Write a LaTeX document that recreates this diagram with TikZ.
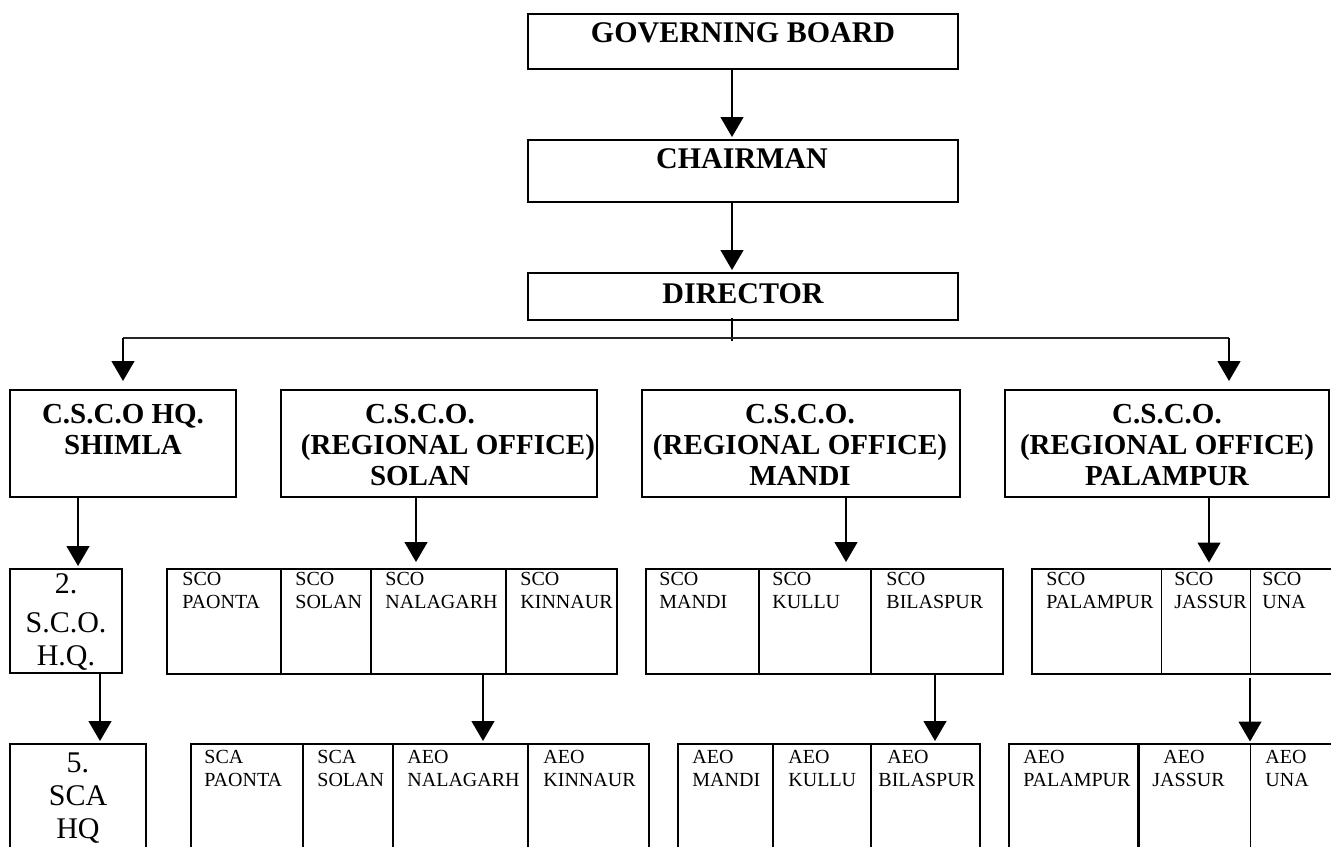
\documentclass[tikz,border=0pt]{standalone}
\usepackage{fontspec}
\setmainfont{Liberation Serif}
\usetikzlibrary{arrows.meta,fit}
\newcommand\colL[1]{\begin{tabular}[t]{@{}l@{}}#1\end{tabular}}
\newcommand\colC[1]{\begin{tabular}[t]{@{}c@{}}#1\end{tabular}}
\newcommand\ftop{\fontsize{15}{16}\selectfont\bfseries}
\newcommand\fmid{\fontsize{14.5}{15.5}\selectfont\bfseries}
\newcommand\freg{\fontsize{15}{16.5}\selectfont}
\newcommand\fsml{\fontsize{10}{11.5}\selectfont}
\begin{document}
\begin{tikzpicture}[x=0.5pt,y=-0.5pt,
 box/.style={draw,line width=1pt,inner sep=0pt},
 thinbox/.style={draw,line width=0.5pt,inner sep=0pt},
 arr/.style={line width=0.65pt,-{Triangle[width=11.5pt,length=10pt]},shorten >=1pt},
 conn/.style={line width=0.65pt},
 bus/.style={line width=0.55pt,black!85},
 tb/.style={inner sep=0pt,anchor=base},
 tl/.style={inner sep=0pt,anchor=base west,font=\fsml},
]
\useasboundingbox (0,0) rectangle (1331,846);
\fill[white] (0,0) rectangle (1331,846);
\clip (0,0) rectangle (1331,846);

% ---- top chain
\node[box, fit={(528,14) (958,69)}] (gb) {};
\node[box, fit={(528,140) (958,202)}] (ch) {};
\node[box, fit={(528,273) (958,320)}] (dir) {};
\node[tb, font=\ftop] (gbt) at (743,42) {GOVERNING BOARD};
\node[tb, font=\ftop] (cht) at (742,168) {CHAIRMAN};
\node[tb, font=\ftop] (dirt) at (743,303) {DIRECTOR};

% ---- level 3
\node[box, fit={(10,390) (236,497)}] (shimla) {};
\node[box, fit={(281,390) (597,497)}] (solan) {};
\node[box, fit={(642,390) (960,497)}] (mandi) {};
\node[box, fit={(1005,390) (1329,497)}] (palam) {};
\node[tb, font=\fmid] (shimlat) at (123,423) {\colC{C.S.C.O HQ.\\SHIMLA}};
\node[tb, font=\fmid] (solant) at (420,423) {\colC{C.S.C.O.\\\makebox[0pt]{\hspace*{28pt}(REGIONAL OFFICE)}\\SOLAN}};
\node[tb, font=\fmid] (mandit) at (800,423) {\colC{C.S.C.O.\\(REGIONAL OFFICE)\\MANDI}};
\node[tb, font=\fmid] (palamt) at (1167,423) {\colC{C.S.C.O.\\(REGIONAL OFFICE)\\PALAMPUR}};

% ---- level 4
\node[box, fit={(10,569) (122,673)}] (sco2) {};
\node[tb, font=\freg] (sco2t) at (66,593) {\colC{2.\\[3pt]S.C.O.\\H.Q.}};

\node[box, fit={(167,569) (281,674)}] (s1) {};
\node[box, fit={(281,569) (371,674)}] (s2) {};
\node[box, fit={(371,569) (506,674)}] (s3) {};
\node[box, fit={(506,569) (617,674)}] (s4) {};
\node[tl] (s1t) at (182,585) {\colL{SCO\\PAONTA}};
\node[tl] (s2t) at (295,585) {\colL{SCO\\SOLAN}};
\node[tl] (s3t) at (385,585) {\colL{SCO\\NALAGARH}};
\node[tl] (s4t) at (520,585) {\colL{SCO\\KINNAUR}};

\node[box, fit={(646,569) (759,674)}] (m1) {};
\node[box, fit={(759,569) (871,674)}] (m2) {};
\node[box, fit={(871,569) (1003,674)}] (m3) {};
\node[tl] (m1t) at (659,585) {\colL{SCO\\MANDI}};
\node[tl] (m2t) at (772,585) {\colL{SCO\\KULLU}};
\node[tl] (m3t) at (886,585) {\colL{SCO\\BILASPUR}};

\node[thinbox, fit={(1032,569) (1161,674)}] (p1) {};
\node[thinbox, fit={(1161,569) (1250,674)}] (p2) {};
\node[thinbox, fit={(1250,569) (1345,674)}] (p3) {};
\node[box, fit={(1032,569) (1345,674)}] (prow) {};
\node[tl] (p1t) at (1046,585) {\colL{SCO\\PALAMPUR}};
\node[tl] (p2t) at (1174,585) {\colL{SCO\\JASSUR}};
\node[tl] (p3t) at (1262,585) {\colL{SCO\\UNA}};

% ---- level 5
\node[box, fit={(10,744) (146,880)}] (sca5) {};
\node[tb, font=\freg] (sca5t) at (78,772) {\colC{5.\\SCA\\HQ}};

\node[box, fit={(191,744) (303,880)}] (sl1) {};
\node[box, fit={(303,744) (393,880)}] (sl2) {};
\node[box, fit={(393,744) (528,880)}] (sl3) {};
\node[box, fit={(528,744) (649,880)}] (sl4) {};
\node[tl] (sl1t) at (204,763) {\colL{SCA\\PAONTA}};
\node[tl] (sl2t) at (317,763) {\colL{SCA\\SOLAN}};
\node[tl] (sl3t) at (407,763) {\colL{AEO\\NALAGARH}};
\node[tl] (sl4t) at (543,763) {\colL{AEO\\KINNAUR}};

\node[box, fit={(678,744) (773,880)}] (ml1) {};
\node[box, fit={(773,744) (871,880)}] (ml2) {};
\node[box, fit={(871,744) (980,880)}] (ml3) {};
\node[tl] (ml1t) at (692,763) {\colL{AEO\\MANDI}};
\node[tl] (ml2t) at (788,763) {\colL{AEO\\KULLU}};
\node[tl] (ml3t) at (878,763) {\colL{\hspace*{4.5pt}AEO\\BILASPUR}};

\node[box, fit={(1009,744) (1138,880)}] (pl1) {};
\node[thinbox, fit={(1138,744) (1250,880)}] (pl2) {};
\node[thinbox, fit={(1250,744) (1345,880)}] (pl3) {};
\node[box, fit={(1009,744) (1345,880)}] (plrow) {};
\draw[line width=1pt] (pl1.north east) -- (pl1.south east);
\node[tl] (pl1t) at (1023,763) {\colL{AEO\\PALAMPUR}};
\node[tl] (pl2t) at (1152,763) {\colL{\hspace*{5.5pt}AEO\\JASSUR}};
\node[tl] (pl3t) at (1265,763) {\colL{AEO\\UNA}};

% ---- connectors
\coordinate (sp) at (732,0);
\coordinate (bl) at (123,338);
\coordinate (br) at (1229,338);
\coordinate (bm) at (732,341);
\draw[arr] (gb.south -| sp) -- (ch.north -| sp);
\draw[arr] (ch.south -| sp) -- (dir.north -| sp);
\draw[conn] ([yshift=1.5pt]dir.south -| sp) -- (bm);
\draw[bus] (bl) -- (br);
\draw[arr, shorten >=4pt] (bl) -- (shimla.north);
\draw[arr, shorten >=4pt] (br) -- (br |- palam.north);

\coordinate (a1) at (78,0);
\coordinate (a2) at (100,0);
\coordinate (a3) at (416,0);
\coordinate (a4) at (483,0);
\coordinate (a5) at (846,0);
\coordinate (a6) at (935,0);
\coordinate (a7) at (1209,0);
\coordinate (a8) at (1250,0);
\draw[arr] (shimla.south -| a1) -- (sco2.north -| a1);
\draw[arr] (sco2.south -| a2) -- (sca5.north -| a2);
\draw[arr, shorten >=3pt] (solan.south -| a3) -- (s3.north -| a3);
\draw[arr] (s3.south -| a4) -- (sl3.north -| a4);
\draw[arr, shorten >=3pt] (mandi.south -| a5) -- (m2.north -| a5);
\draw[arr] (m3.south -| a6) -- (ml3.north -| a6);
\draw[arr, shorten >=3pt] (palam.south -| a7) -- (p2.north -| a7);
\draw[arr, shorten <=1.5pt] (p2.south -| a8) -- (pl3.north -| a8);
\end{tikzpicture}
\end{document}
